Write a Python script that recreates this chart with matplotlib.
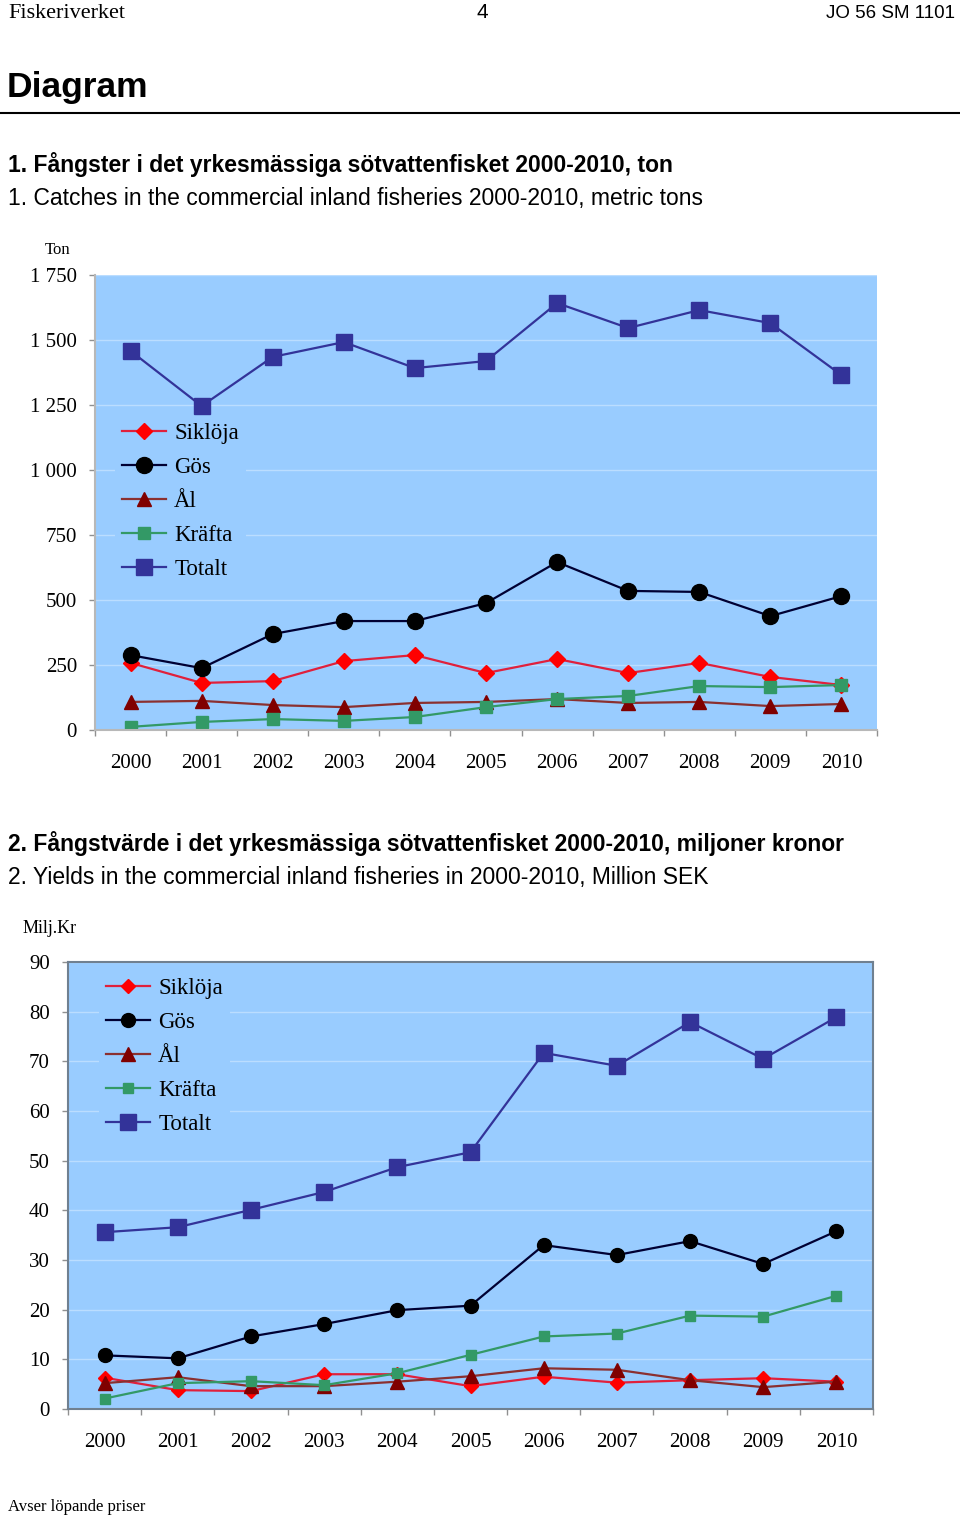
import numpy as np
import matplotlib
matplotlib.use("Agg")
import matplotlib.pyplot as plt
from matplotlib.lines import Line2D

years = [str(y) for y in range(2000, 2011)]
series_names = ["Siklöja", "Gös", "Ål", "Kräfta", "Totalt"]

# Chart 1: catches, metric tons
catch_sikloja = [258, 181, 188, 265, 288, 219, 273, 219, 258, 204, 173]
catch_gos = [288, 238, 369, 419, 419, 488, 646, 535, 531, 438, 515]
catch_al = [108, 112, 96, 88, 104, 108, 119, 104, 108, 92, 100]
catch_krafta = [12, 31, 42, 35, 50, 88, 119, 131, 169, 165, 173]
catch_totalt = [1458, 1246, 1435, 1492, 1392, 1419, 1642, 1546, 1615, 1565, 1365]

# Chart 2: value, million SEK
value_sikloja = [6.3, 3.8, 3.6, 7.0, 7.0, 4.6, 6.5, 5.3, 5.8, 6.2, 5.5]
value_gos = [10.8, 10.2, 14.6, 17.1, 19.9, 20.8, 33.0, 31.0, 33.8, 29.2, 35.8]
value_al = [5.2, 6.4, 4.6, 4.6, 5.5, 6.6, 8.2, 7.9, 5.8, 4.4, 5.5]
value_krafta = [2.1, 5.2, 5.6, 4.8, 7.2, 10.9, 14.6, 15.2, 18.8, 18.6, 22.8]
value_totalt = [35.6, 36.6, 40.1, 43.7, 48.7, 51.7, 71.7, 69.1, 77.9, 70.5, 78.9]

SERIF = "Liberation Serif"
SANS = "Liberation Sans"
W, H = 960, 1518


def fy(px):
    return 1 - px / H


def fx(px):
    return px / W


fig = plt.figure(figsize=(W / 100, H / 100), dpi=100)

# --- page header ---
fig.text(fx(8), fy(18), "Fiskeriverket", family=SERIF, fontsize=16, va="baseline")
fig.text(fx(482), fy(18), "4", family=SANS, fontsize=15, va="baseline", ha="center")
fig.text(fx(955), fy(18), "JO 56 SM 1101", family=SANS, fontsize=13.5, va="baseline", ha="right")
fig.text(fx(7), fy(97), "Diagram", family=SANS, fontsize=25.5, fontweight="bold", va="baseline")
fig.add_artist(Line2D([0, 1], [fy(113), fy(113)], transform=fig.transFigure, color="black", lw=1.5))

fig.text(fx(8), fy(172), "1. Fångster i det yrkesmässiga sötvattenfisket 2000-2010, ton",
         family=SANS, fontsize=16.5, fontweight="bold", va="baseline")
fig.text(fx(8), fy(205), "1. Catches in the commercial inland fisheries 2000-2010, metric tons",
         family=SANS, fontsize=16.5, va="baseline")
fig.text(fx(8), fy(851), "2. Fångstvärde i det yrkesmässiga sötvattenfisket 2000-2010, miljoner kronor",
         family=SANS, fontsize=16.5, fontweight="bold", va="baseline")
fig.text(fx(8), fy(884), "2. Yields in the commercial inland fisheries in 2000-2010, Million SEK",
         family=SANS, fontsize=16.5, va="baseline")
fig.text(fx(58), fy(254), "Ton", family=SERIF, fontsize=12, va="baseline", ha="center")
fig.text(fx(50), fy(933), "Milj.Kr", family=SERIF, fontsize=13, va="baseline", ha="center")
fig.text(fx(8), fy(1511), "Avser löpande priser", family=SERIF, fontsize=12, va="baseline")

line_colors = ["#E0203C", "#000033", "#8B3030", "#339966", "#333399"]
marker_colors = ["#FF0000", "#000000", "#800000", "#339966", "#333399"]
markers = ["D", "o", "^", "s", "s"]


def draw_chart(ax, data, ymax, ystep, msizes, spine_col, all_spines, leg_pos):
    x = np.arange(len(years))
    ax.set_facecolor("#99CCFF")
    for vals, name, lc, mc, mk, ms in zip(data, series_names, line_colors, marker_colors, markers, msizes):
        ax.plot(x, vals, color=lc, lw=1.6, marker=mk, ms=ms, mfc=mc, mec=mc, label=name)
    ax.set_xlim(-0.5, len(years) - 0.5)
    ax.set_ylim(0, ymax)
    yt = np.arange(0, ymax + 1, ystep)
    ax.set_yticks(yt)
    ax.set_yticklabels([f"{int(v):,}".replace(",", " ") for v in yt], family=SERIF, fontsize=15)
    ax.set_xticks(np.arange(-0.5, len(years), 1))
    ax.set_xticklabels([])
    ax.set_xticks(x, minor=True)
    ax.set_xticklabels(years, minor=True, family=SERIF, fontsize=15)
    ax.tick_params(axis="x", which="minor", length=0, pad=17.5)
    ax.tick_params(axis="both", which="major", length=4, color="#909090", width=1)
    ax.tick_params(axis="y", pad=9)
    ax.grid(axis="y", color="#BBDDFF", lw=1)
    ax.set_axisbelow(True)
    for side, sp in ax.spines.items():
        sp.set_color(spine_col)
        sp.set_linewidth(1.5)
        if not all_spines and side in ("top", "right"):
            sp.set_visible(False)
    leg = ax.legend(loc="upper left", bbox_to_anchor=leg_pos, prop={"family": SERIF, "size": 16.5},
                    frameon=True, facecolor="#99CCFF", edgecolor="none", framealpha=1,
                    borderpad=0.3, handlelength=1.92, handletextpad=0.35, labelspacing=0.57,
                    borderaxespad=0, fancybox=False)
    return leg


# --- Chart 1 ---
ax1 = fig.add_axes([fx(95), fy(730), (877 - 95) / W, (730 - 275) / H])
draw_chart(ax1, [catch_sikloja, catch_gos, catch_al, catch_krafta, catch_totalt],
           1750, 250, [8, 11.5, 10, 9, 12], "#B8B8B8", False, (0.026, 0.69))

# --- Chart 2 ---
ax2 = fig.add_axes([fx(68), fy(1409), (873 - 68) / W, (1409 - 962) / H])
draw_chart(ax2, [value_sikloja, value_gos, value_al, value_krafta, value_totalt],
           90, 10, [7, 10, 10, 6.5, 11], "#708090", True, (0.039, 0.98))

plt.savefig("out.png", dpi=100)
